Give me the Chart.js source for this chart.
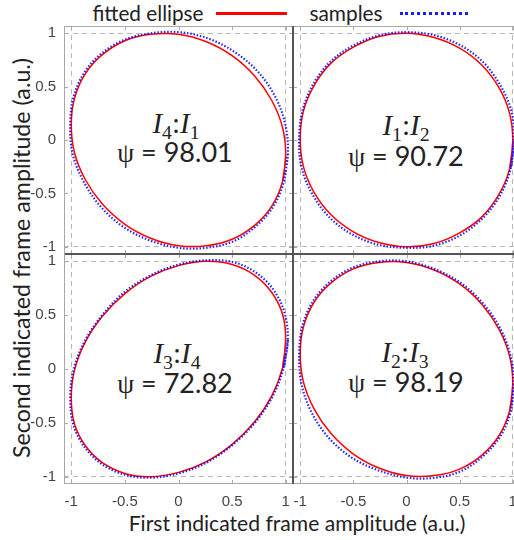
<!DOCTYPE html>
<html>
<head>
<meta charset="utf-8">
<script src="https://cdn.jsdelivr.net/npm/chart.js@4.4.1/dist/chart.umd.min.js"></script>
<style>
  html, body { margin: 0; padding: 0; background: #fff; width: 514px; height: 540px; overflow: hidden; }
  body { position: relative; }
  canvas { position: absolute; }
  .t { position: absolute; white-space: nowrap; transform: translate(-50%, -50%); color: #222; line-height: 1; }
  .leg, .title { font-family: Lato, "Open Sans", sans-serif; }
  .ann1 { font-family: "Liberation Serif", "DejaVu Serif", serif; font-size: 29px; }
  .ann1 i { font-style: italic; }
  .ann1 span { font-size: 0.68em; position: relative; top: 0.3em; }
  .ann2 { font-family: Lato, "Open Sans", sans-serif; font-size: 27px; }
  .ann2 b { font-family: "Liberation Serif", "DejaVu Serif", serif; font-weight: normal; }
  .sw { position: absolute; height: 0; }
</style>
</head>
<body>

<div class="t leg" id="legFit" style="left:148px; top:13px;">fitted ellipse</div>
<div class="sw" style="left:216px; top:12px; width:71px; border-top:3px solid #ff0000;"></div>
<div class="t leg" id="legSmp" style="left:346px; top:13px;">samples</div>
<div class="sw" style="left:400px; top:12px; width:68px; border-top:3px dotted #1a1aff;"></div>

<div class="t title" id="xTitle" style="left:297px; top:523px;">First indicated frame amplitude (a.u.)</div>
<div class="t title" id="yTitle" style="left:22px; top:258px; transform: translate(-50%, -50%) rotate(-90deg);">Second indicated frame amplitude (a.u.)</div>

<div class="t ann1" style="left:176px; top:123px;"><i>I</i><span>4</span>:<i>I</i><span>1</span></div>
<div class="t ann2" style="left:175px; top:152px;"><b>ψ</b> = 98.01</div>
<div class="t ann1" style="left:406px; top:125px;"><i>I</i><span>1</span>:<i>I</i><span>2</span></div>
<div class="t ann2" style="left:406px; top:156px;"><b>ψ</b> = 90.72</div>
<div class="t ann1" style="left:177px; top:353px;"><i>I</i><span>3</span>:<i>I</i><span>4</span></div>
<div class="t ann2" style="left:175px; top:383px;"><b>ψ</b> = 72.82</div>
<div class="t ann1" style="left:405px; top:352px;"><i>I</i><span>2</span>:<i>I</i><span>3</span></div>
<div class="t ann2" style="left:406px; top:382px;"><b>ψ</b> = 98.19</div>

<script>
// tick labels shared by every panel
const tickVals = [-1, -0.5, 0, 0.5, 1];
const tickText = ['-1', '-0.5', '0', '0.5', '1'];

// I4:I1  (psi = 98.01)
const fitX_41 = [1.00, 0.97, 0.87, 0.71, 0.50, 0.26, 0.00, -0.26, -0.50, -0.71, -0.87, -0.97, -1.00, -0.97, -0.87, -0.71, -0.50, -0.26, 0.00, 0.26, 0.50, 0.71, 0.87, 0.97];
const fitY_41 = [-0.14, -0.39, -0.62, -0.80, -0.93, -0.99, -0.99, -0.92, -0.79, -0.60, -0.37, -0.12, 0.14, 0.39, 0.62, 0.80, 0.93, 0.99, 0.99, 0.92, 0.79, 0.60, 0.37, 0.12];
const smpX_41 = [1.02, 0.98, 0.88, 0.72, 0.51, 0.26, 0.00, -0.27, -0.52, -0.73, -0.89, -0.99, -1.01, -0.98, -0.88, -0.72, -0.50, -0.26, 0.01, 0.28, 0.53, 0.75, 0.91, 1.00];
const smpY_41 = [-0.13, -0.40, -0.63, -0.81, -0.95, -1.01, -1.01, -0.94, -0.81, -0.62, -0.38, -0.12, 0.15, 0.40, 0.63, 0.81, 0.94, 1.00, 1.01, 0.95, 0.82, 0.63, 0.39, 0.13];

// I1:I2  (psi = 90.72)
const fitX_12 = [1.00, 0.97, 0.87, 0.71, 0.50, 0.26, 0.00, -0.26, -0.50, -0.71, -0.87, -0.97, -1.00, -0.97, -0.87, -0.71, -0.50, -0.26, 0.00, 0.26, 0.50, 0.71, 0.87, 0.97];
const fitY_12 = [-0.01, -0.27, -0.51, -0.72, -0.87, -0.97, -1.00, -0.96, -0.86, -0.70, -0.49, -0.25, 0.01, 0.27, 0.51, 0.72, 0.87, 0.97, 1.00, 0.96, 0.86, 0.70, 0.49, 0.25];
const smpX_12 = [1.01, 0.98, 0.88, 0.72, 0.51, 0.26, 0.00, -0.27, -0.52, -0.73, -0.89, -0.99, -1.01, -0.98, -0.88, -0.72, -0.51, -0.26, 0.00, 0.27, 0.52, 0.73, 0.89, 0.99];
const smpY_12 = [-0.01, -0.27, -0.52, -0.73, -0.89, -0.99, -1.01, -0.98, -0.88, -0.72, -0.50, -0.25, 0.01, 0.27, 0.52, 0.73, 0.88, 0.98, 1.01, 0.98, 0.88, 0.72, 0.50, 0.26];

// I3:I4  (psi = 72.82)
const fitX_34 = [1.00, 0.97, 0.87, 0.71, 0.50, 0.26, 0.00, -0.26, -0.50, -0.71, -0.87, -0.97, -1.00, -0.97, -0.87, -0.71, -0.50, -0.26, 0.00, 0.26, 0.50, 0.71, 0.87, 0.97];
const fitY_34 = [0.27, 0.01, -0.25, -0.49, -0.70, -0.86, -0.96, -1.00, -0.97, -0.87, -0.71, -0.51, -0.27, -0.01, 0.25, 0.49, 0.70, 0.86, 0.96, 1.00, 0.97, 0.87, 0.71, 0.51];
const smpX_34 = [1.02, 0.98, 0.88, 0.72, 0.51, 0.26, 0.00, -0.27, -0.51, -0.72, -0.88, -0.98, -1.01, -0.98, -0.88, -0.72, -0.51, -0.26, 0.00, 0.27, 0.52, 0.73, 0.89, 0.99];
const smpY_34 = [0.27, 0.01, -0.25, -0.49, -0.70, -0.87, -0.97, -1.01, -0.98, -0.88, -0.72, -0.52, -0.27, -0.01, 0.25, 0.49, 0.71, 0.87, 0.97, 1.01, 0.99, 0.89, 0.73, 0.52];

// I2:I3  (psi = 98.19)
const fitX_23 = [1.00, 0.97, 0.87, 0.71, 0.50, 0.26, 0.00, -0.26, -0.50, -0.71, -0.87, -0.97, -1.00, -0.97, -0.87, -0.71, -0.50, -0.26, 0.00, 0.26, 0.50, 0.71, 0.87, 0.97];
const fitY_23 = [-0.14, -0.39, -0.62, -0.80, -0.93, -0.99, -0.99, -0.92, -0.79, -0.60, -0.37, -0.12, 0.14, 0.39, 0.62, 0.80, 0.93, 0.99, 0.99, 0.92, 0.79, 0.60, 0.37, 0.12];
const smpX_23 = [1.01, 0.98, 0.88, 0.72, 0.51, 0.27, 0.01, -0.27, -0.52, -0.74, -0.90, -0.99, -1.01, -0.98, -0.88, -0.72, -0.51, -0.26, 0.00, 0.26, 0.51, 0.72, 0.88, 0.98];
const smpY_23 = [-0.14, -0.40, -0.63, -0.81, -0.95, -1.01, -1.01, -0.94, -0.82, -0.63, -0.39, -0.13, 0.14, 0.40, 0.63, 0.81, 0.94, 1.00, 1.00, 0.93, 0.80, 0.61, 0.38, 0.12];

// fit text blocks to the widths measured on the reference
function fitWidth(id, w) {
    const el = document.getElementById(id);
    const fs = parseFloat(getComputedStyle(el).fontSize);
    el.style.fontSize = (fs * w / el.offsetWidth) + 'px';
}
document.querySelectorAll('.leg, .title').forEach(el => el.style.fontSize = '20px');
fitWidth('legFit', 111);
fitWidth('legSmp', 73);
fitWidth('xTitle', 337);
fitWidth('yTitle', 400);

const LAB_W = 50, LAB_H = 30;
const AX = 1.068;

// closed loop: repeat the first two samples so the spline joins smoothly
const loop = (xs, ys) => {
    const pts = xs.map((x, i) => ({ x: x, y: ys[i] }));
    return pts.concat(pts.slice(0, 2));
};

const framePlugin = {
    id: 'frame',
    afterDraw(chart, args, opts) {
        const { ctx, chartArea: a, scales: { x, y } } = chart;
        ctx.save();
        ctx.lineWidth = 1;
        ctx.strokeStyle = '#a8a8a8';
        ctx.beginPath();
        tickVals.forEach(v => {
            const px = Math.round(x.getPixelForValue(v)) + 0.5;
            ctx.moveTo(px, a.top); ctx.lineTo(px, a.top + 4);
            ctx.moveTo(px, a.bottom); ctx.lineTo(px, a.bottom - 4);
            const py = Math.round(y.getPixelForValue(v)) + 0.5;
            ctx.moveTo(a.left, py); ctx.lineTo(a.left + 4, py);
            ctx.moveTo(a.right, py); ctx.lineTo(a.right - 4, py);
        });
        ctx.stroke();
        const side = (inner, x1, y1, x2, y2) => {
            ctx.strokeStyle = inner ? '#555555' : '#a8a8a8';
            ctx.beginPath(); ctx.moveTo(x1, y1); ctx.lineTo(x2, y2); ctx.stroke();
        };
        const L = a.left + 0.5, R = a.right - 0.5, T = a.top + 0.5, B = a.bottom - 0.5;
        side(opts.inner.includes('top'), a.left, T, a.right, T);
        side(opts.inner.includes('bottom'), a.left, B, a.right, B);
        side(opts.inner.includes('left'), L, a.top, L, a.bottom);
        side(opts.inner.includes('right'), R, a.top, R, a.bottom);
        ctx.restore();
    }
};

const panels = [
    { fx: fitX_41, fy: fitY_41, sx: smpX_41, sy: smpY_41, left: 64, top: 26, w: 229, h: 228, xLab: false, yLab: true, inner: ['right', 'bottom'] },
    { fx: fitX_12, fy: fitY_12, sx: smpX_12, sy: smpY_12, left: 293, top: 26, w: 227, h: 228, xLab: false, yLab: false, inner: ['left', 'bottom'] },
    { fx: fitX_34, fy: fitY_34, sx: smpX_34, sy: smpY_34, left: 64, top: 254, w: 229, h: 230, xLab: true, yLab: true, inner: ['right', 'top'] },
    { fx: fitX_23, fy: fitY_23, sx: smpX_23, sy: smpY_23, left: 293, top: 254, w: 227, h: 230, xLab: true, yLab: false, inner: ['left', 'top'] }
];

const tickFont = { family: '"Liberation Sans", Arial, sans-serif', size: 15 };
const dashGrid = c => (c.tick && Math.abs(c.tick.value) === 1) ? '#b8b8b8' : 'rgba(0,0,0,0)';

panels.forEach(p => {
    const cv = document.createElement('canvas');
    cv.width = LAB_W + p.w;
    cv.height = p.h + LAB_H;
    cv.style.left = (p.left - LAB_W) + 'px';
    cv.style.top = p.top + 'px';
    document.body.appendChild(cv);

    new Chart(cv, {
        type: 'scatter',
        data: {
            datasets: [{
                label: 'fitted ellipse',
                data: loop(p.fx, p.fy),
                showLine: true,
                borderColor: '#ff0000',
                borderWidth: 1.5,
                pointRadius: 0,
                tension: 0.34,
                order: 1
            }, {
                label: 'samples',
                data: loop(p.sx, p.sy),
                showLine: true,
                borderColor: 'rgba(0,0,255,0.85)',
                borderWidth: 2.2,
                borderDash: [1.5, 1.8],
                pointRadius: 0,
                tension: 0.34,
                order: 0
            }]
        },
        options: {
            responsive: false,
            animation: false,
            devicePixelRatio: 1,
            layout: { padding: 0 },
            plugins: {
                legend: { display: false },
                tooltip: { enabled: false },
                frame: { inner: p.inner }
            },
            scales: {
                x: {
                    type: 'linear',
                    min: -AX, max: AX,
                    afterBuildTicks: s => { s.ticks = tickVals.map(v => ({ value: v })); },
                    afterFit: s => { s.height = LAB_H; s.paddingLeft = 0; s.paddingRight = 0; },
                    ticks: { display: p.xLab, autoSkip: false, maxRotation: 0, padding: 9, color: '#444', font: tickFont, callback: (v, i) => tickText[i] },
                    grid: { color: dashGrid, drawTicks: false },
                    border: { display: false, dash: [5, 4] }
                },
                y: {
                    type: 'linear',
                    min: -AX, max: AX,
                    afterBuildTicks: s => { s.ticks = tickVals.map(v => ({ value: v })); },
                    afterFit: s => { s.width = LAB_W; s.paddingTop = 0; s.paddingBottom = 0; },
                    ticks: { display: p.yLab, autoSkip: false, padding: 8, color: '#444', font: tickFont, callback: (v, i) => tickText[i] },
                    grid: { color: dashGrid, drawTicks: false },
                    border: { display: false, dash: [5, 4] }
                }
            }
        },
        plugins: [framePlugin]
    });
});
</script>
</body>
</html>
